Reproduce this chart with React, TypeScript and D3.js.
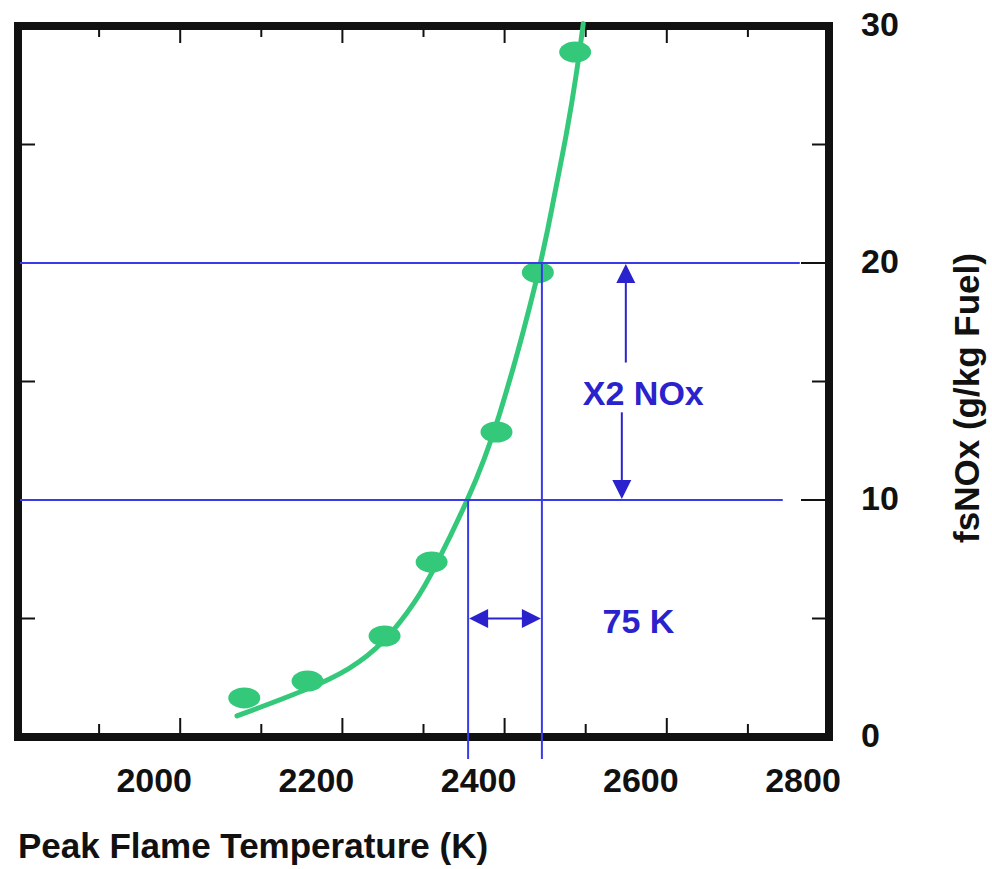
import React from 'react';
import * as d3 from 'd3';

// measured points (peak flame temperature K, fsNOx g/kg fuel)
const pointTemps = [2079, 2157, 2252, 2310, 2390, 2441, 2487];
const pointNox = [1.65, 2.36, 4.26, 7.38, 12.87, 19.6, 28.9];

// fitted curve drawn through the data
const curveTemps = [2070, 2156, 2209, 2252, 2292, 2312, 2355, 2390, 2446, 2460, 2477, 2490, 2497];
const curveNox = [0.89, 1.98, 2.83, 3.97, 5.78, 7.0, 10.0, 12.9, 20.0, 22.66, 25.49, 28.27, 30.1];

const xTickValues = [1900, 2000, 2100, 2200, 2300, 2400, 2500, 2600, 2700];
const xLabelValues = [2000, 2200, 2400, 2600, 2800];
const yTickValues = [5, 10, 15, 20, 25];
const yLabelValues = [0, 10, 20, 30];

// annotation: reference levels and the temperatures where the curve crosses them
const refLevels = [10, 20];
const refLevelEnds = [2743, 2764];
const refTemps = [2355, 2446];
const doubleArrowT = 2547;
const spanArrowNox = 5;

const W = 992;
const H = 869;
const FONT = '"Liberation Sans", Arial, Helvetica, sans-serif';
const GREEN = '#34c97a';
const BLUE = '#3b3be6';
const DARKBLUE = '#2a22cc';

const x = d3.scaleLinear().domain([1800, 2800]).range([18, 829]);
const y = d3.scaleLinear().domain([0, 30]).range([737, 26]);

const line = d3
   .line<[number, number]>()
   .x((d) => x(d[0]))
   .y((d) => y(d[1]))
   .curve(d3.curveBasis);

const arrowHead = (tipX: number, tipY: number, dir: 'up' | 'down' | 'left' | 'right') => {
   const L = 19;
   const h = 9.5;
   if (dir === 'up') return `M${tipX},${tipY} L${tipX - h},${tipY + L} L${tipX + h},${tipY + L}Z`;
   if (dir === 'down') return `M${tipX},${tipY} L${tipX - h},${tipY - L} L${tipX + h},${tipY - L}Z`;
   if (dir === 'left') return `M${tipX},${tipY} L${tipX + L},${tipY - h} L${tipX + L},${tipY + h}Z`;
   return `M${tipX},${tipY} L${tipX - L},${tipY - h} L${tipX - L},${tipY + h}Z`;
};

const App: React.FC = () => {
   const curveData = curveTemps.map((t, i) => [t, curveNox[i]] as [number, number]);
   const left = x(1800);
   const right = x(2800);
   const top = y(30);
   const bottom = y(0);
   const upX = x(doubleArrowT) + 2;
   const downX = x(doubleArrowT) - 2;

   return (
      <svg
         width={W}
         height={H}
         viewBox={`0 0 ${W} ${H}`}
         style={{ position: 'absolute', left: 0, top: 0, background: '#fff' }}
      >
         {/* ticks */}
         <g stroke="#111" strokeWidth={2}>
            {xTickValues.map((v) => {
               const major = v % 200 === 0;
               return (
                  <g key={'xt' + v}>
                     <line x1={x(v)} x2={x(v)} y1={bottom - 4} y2={bottom - (major ? 19 : 13)} />
                     <line x1={x(v)} x2={x(v)} y1={top + 3} y2={top + (major ? 17 : 11)} />
                  </g>
               );
            })}
            {yTickValues.map((v) => {
               const major = v % 10 === 0;
               return (
                  <g key={'yt' + v}>
                     <line x1={right - 4} x2={right - (major ? 28 : 17)} y1={y(v)} y2={y(v)} />
                     {!major && <line x1={left + 4} x2={left + 17} y1={y(v)} y2={y(v)} />}
                  </g>
               );
            })}
         </g>

         {/* frame */}
         <rect
            x={left}
            y={top}
            width={right - left}
            height={bottom - top}
            fill="none"
            stroke="#111"
            strokeWidth={8}
         />

         {/* fitted curve and data points */}
         <path d={line(curveData) ?? ''} fill="none" stroke={GREEN} strokeWidth={5} strokeLinecap="round" />
         {pointTemps.map((t, i) => (
            <ellipse key={'p' + i} cx={x(t)} cy={y(pointNox[i])} rx={16} ry={10.5} fill={GREEN} />
         ))}

         {/* reference lines */}
         <g stroke={BLUE} strokeWidth={2}>
            {refLevels.map((lv, i) => (
               <line key={'h' + lv} x1={left + 2} x2={x(refLevelEnds[i])} y1={y(lv)} y2={y(lv)} />
            ))}
            {refTemps.map((t, i) => (
               <line key={'v' + t} x1={x(t)} x2={x(t)} y1={y(refLevels[i])} y2={bottom + 22} />
            ))}
         </g>

         {/* x2 arrow */}
         <g stroke={DARKBLUE} strokeWidth={2}>
            <line x1={upX} x2={upX} y1={y(15.8)} y2={y(20) + 15} />
            <line x1={downX} x2={downX} y1={y(13.7)} y2={y(10) - 15} />
            <line x1={x(refTemps[0]) + 15} x2={x(refTemps[1]) - 15} y1={y(spanArrowNox)} y2={y(spanArrowNox)} />
         </g>
         <g fill={DARKBLUE}>
            <path d={arrowHead(upX, y(20) + 1, 'up')} />
            <path d={arrowHead(downX, y(10) - 1, 'down')} />
            <path d={arrowHead(x(refTemps[0]) + 1, y(spanArrowNox), 'left')} />
            <path d={arrowHead(x(refTemps[1]) - 1, y(spanArrowNox), 'right')} />
         </g>
         <g fill={DARKBLUE} fontFamily={FONT} fontWeight="bold" fontSize={34} textAnchor="middle">
            <text x={x(2571)} y={y(14.0)}>X2 NOx</text>
            <text x={x(2565)} y={y(4.39)}>75 K</text>
         </g>

         {/* axis labels */}
         <g fill="#111" fontFamily={FONT} fontWeight="bold" fontSize={34}>
            {xLabelValues.map((v) => (
               <text key={'xl' + v} x={x(v) - 26} y={792} textAnchor="middle">
                  {v}
               </text>
            ))}
            {yLabelValues.map((v) => (
               <text key={'yl' + v} x={861} y={y(v) + 10} textAnchor="start">
                  {v}
               </text>
            ))}
            <text x={18} y={858} fontSize={35}>
               Peak Flame Temperature (K)
            </text>
            <text
               transform={`translate(979, 398) rotate(-90)`}
               textAnchor="middle"
               fontSize={35}
            >
               fsNOx (g/kg Fuel)
            </text>
         </g>
      </svg>
   );
};

export default App;
